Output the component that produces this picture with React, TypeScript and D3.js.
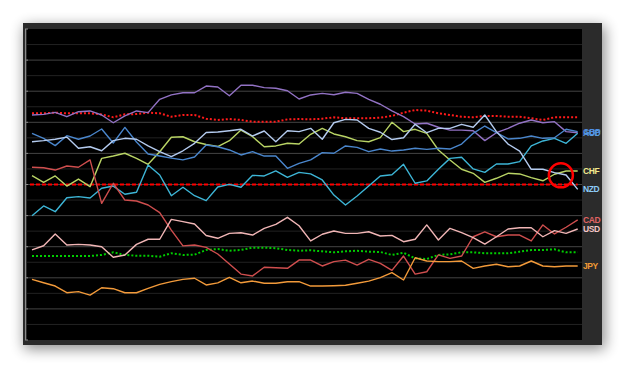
import React from 'react';
import * as d3 from 'd3';

const periods = d3.range(48);

const EUR = [4.47,4.51,4.64,4.36,4.68,4.73,4.47,3.97,4.41,4.73,4.62,5.48,5.76,5.90,5.90,6.33,6.27,5.71,6.38,6.38,6.23,6.19,6.03,5.50,5.76,5.86,5.77,5.93,5.86,5.48,5.16,4.73,4.36,3.89,3.94,3.68,3.50,3.50,3.46,2.82,3.33,3.61,3.94,4.15,3.97,4.04,3.40,3.33];
const GBP = [3.29,2.97,2.50,3.14,2.91,3.12,3.57,2.67,3.67,2.73,1.96,1.83,1.70,1.58,1.77,2.54,2.43,2.22,1.90,2.11,1.83,1.83,1.04,1.36,1.58,2.05,2.01,2.48,2.39,2.11,2.28,2.15,2.22,2.33,2.26,2.33,2.28,2.60,3.29,3.76,3.33,2.93,2.97,3.12,2.97,3.01,3.55,3.40];
const NZD = [2.75,2.82,2.91,3.05,2.33,2.43,2.17,2.82,2.97,2.91,2.48,2.11,1.79,2.17,2.65,3.34,3.38,3.46,3.55,3.12,3.44,2.75,3.46,3.40,3.61,2.91,3.97,4.19,4.15,3.61,3.36,2.89,3.01,3.87,3.33,3.61,3.61,3.87,3.68,4.47,3.40,2.60,2.15,0.98,0.98,0.76,0.61,-0.31];
const AUD = [-2.01,-1.38,-1.75,-0.85,-0.78,-0.87,-0.24,-0.10,-0.63,-0.50,1.25,0.61,-0.72,-0.18,-0.72,-1.04,-0.16,0.01,-0.18,0.59,0.55,0.87,0.46,0.78,0.68,0.29,-0.68,-1.32,-0.74,-0.10,0.55,0.63,1.30,0.08,0.23,0.98,1.68,1.75,1.00,0.78,1.32,1.32,1.47,2.48,2.80,2.97,2.65,3.29];
const CHF = [0.57,0.14,0.55,-0.10,0.35,-0.14,1.68,1.83,2.01,1.68,1.30,2.11,3.04,3.07,2.75,2.57,2.44,2.82,3.50,3.07,2.43,2.48,2.65,2.60,3.23,3.61,3.25,3.07,2.82,2.75,3.01,4.00,3.40,3.55,3.29,2.22,1.58,0.98,0.72,0.14,0.40,0.72,0.68,0.44,0.24,0.66,0.87,0.87];
const CAD = [1.11,1.08,0.93,1.19,1.11,1.58,-1.21,0.08,-1.00,-1.06,-1.32,-1.81,-2.93,-3.95,-3.89,-4.04,-4.47,-5.11,-5.76,-5.88,-5.32,-5.35,-5.39,-4.86,-4.86,-5.24,-4.96,-4.86,-5.18,-4.81,-5.07,-5.52,-4.60,-5.76,-5.61,-4.53,-4.75,-4.60,-3.36,-3.04,-3.36,-3.25,-3.25,-3.63,-2.60,-3.18,-2.75,-2.28];
const USD = [-4.21,-3.94,-3.18,-3.89,-3.85,-3.89,-4.00,-4.68,-4.53,-3.85,-3.52,-3.52,-2.24,-2.39,-2.54,-3.28,-3.46,-3.14,-3.10,-3.25,-2.82,-2.56,-2.11,-2.65,-3.63,-3.20,-2.99,-3.14,-3.14,-3.04,-3.31,-3.27,-3.68,-3.52,-2.60,-3.57,-2.82,-3.10,-3.42,-3.83,-3.36,-2.86,-2.78,-2.78,-3.36,-2.97,-3.14,-2.86];
const JPY = [-6.10,-6.32,-6.53,-6.96,-6.89,-7.11,-6.64,-6.70,-6.96,-6.96,-6.68,-6.42,-6.25,-6.10,-6.03,-6.46,-6.33,-5.97,-6.32,-6.21,-6.35,-6.35,-6.25,-6.25,-6.53,-6.53,-6.51,-6.48,-6.35,-6.21,-5.99,-5.67,-6.14,-4.71,-4.92,-4.96,-4.96,-4.92,-5.39,-5.24,-5.13,-5.29,-5.24,-4.92,-5.24,-5.29,-5.24,-5.24];
const upperBand = [4.58,4.58,4.62,4.58,4.58,4.58,4.51,4.32,4.51,4.53,4.62,4.58,4.36,4.47,4.47,4.23,4.15,4.21,4.15,4.04,4.04,4.04,4.19,4.21,4.19,4.23,4.32,4.26,4.26,4.26,4.30,4.41,4.62,4.79,4.75,4.58,4.47,4.36,4.32,4.41,4.41,4.36,4.36,4.26,4.15,4.32,4.32,4.32];
const lowerBand = [-4.60,-4.60,-4.60,-4.60,-4.60,-4.60,-4.53,-4.36,-4.53,-4.58,-4.58,-4.64,-4.42,-4.53,-4.51,-4.21,-4.15,-4.26,-4.21,-4.06,-4.06,-4.10,-4.21,-4.26,-4.23,-4.30,-4.36,-4.30,-4.26,-4.32,-4.34,-4.53,-4.39,-4.75,-4.79,-4.53,-4.49,-4.36,-4.36,-4.42,-4.42,-4.42,-4.32,-4.21,-4.21,-4.17,-4.36,-4.36];
const zeroLevel = 0;
const yDomain = [-10, 10];
const gridValues = d3.range(-9, 10);
const highlight = { index: 45.55, value: 0.59 };

const currencies = [
  { name: 'EUR', values: EUR, color: '#9272c4', label: false, labelColor: '' },
  { name: 'CHF', values: CHF, color: '#b9d465', label: true, labelColor: '#f3ea8e' },
  { name: 'AUD', values: AUD, color: '#3db5d6', label: true, labelColor: '#5a9fe0' },
  { name: 'GBP', values: GBP, color: '#4a86cc', label: true, labelColor: '#4f8fe2' },
  { name: 'NZD', values: NZD, color: '#b4cbef', label: true, labelColor: '#8ccaf7' },
  { name: 'CAD', values: CAD, color: '#cf4e4e', label: true, labelColor: '#e06464' },
  { name: 'USD', values: USD, color: '#f1b6b6', label: true, labelColor: '#f4c6c6' },
  { name: 'JPY', values: JPY, color: '#f29a3a', label: true, labelColor: '#f09a34' },
];

export default function App() {
  const W = 625, H = 369;
  const x = d3.scaleLinear().domain([0, 47]).range([32, 577.7]);
  const y = d3.scaleLinear().domain(yDomain).range([340, 29]);
  const line = d3.line<number>().x((_, i) => x(periods[i])).y(d => y(d));

  return (
    <svg width={W} height={H} style={{ position: 'absolute', left: 0, top: 0 }}>
      <defs>
        <filter id="shadow" x="-20%" y="-20%" width="140%" height="150%">
          <feGaussianBlur stdDeviation="7" />
        </filter>
      </defs>
      <rect x={0} y={0} width={W} height={H} fill="#ffffff" />
      <rect x={24} y={26} width={581} height={323} fill="#000" opacity={0.45} filter="url(#shadow)" />
      <rect x={23} y={23} width={579} height={322} fill="#2b2b2b" />
      <rect x={27} y={29} width={555} height={311} fill="#000" />
      {gridValues.map(v => (
        <line key={v} x1={27} x2={582} y1={y(v)} y2={y(v)}
          stroke={v % 2 === 0 ? '#444' : '#222'} strokeWidth={1} />
      ))}
      <line x1={25.5} x2={25.5} y1={y(10)} y2={y(-10)} stroke="#8a8a8a" strokeWidth={1} />
      {d3.range(-10, 11, 2).map(v => (
        <line key={'t' + v} x1={25} x2={28} y1={y(v)} y2={y(v)} stroke="#8a8a8a" strokeWidth={1} />
      ))}
      <path d={line(upperBand) || ''} fill="none" stroke="#ff1a1a" strokeWidth={2} strokeDasharray="2,2" />
      <path d={line(lowerBand) || ''} fill="none" stroke="#00cc00" strokeWidth={2} strokeDasharray="2,2" />
      <line x1={x(0) - 2} x2={x(47)} y1={y(zeroLevel)} y2={y(zeroLevel)} stroke="#ff0000" strokeWidth={2} strokeDasharray="4,2" />
      {currencies.map(c => (
        <path key={c.name} d={line(c.values) || ''} fill="none" stroke={c.color} strokeWidth={1.4} strokeLinejoin="round" />
      ))}
      <circle cx={x(highlight.index)} cy={y(highlight.value)} r={12} fill="none" stroke="#ff0000" strokeWidth={2.5} />
      {currencies.filter(c => c.label).map(c => (
        <text key={'l' + c.name} x={583} y={y(c.values[c.values.length - 1]) + 3}
          fill={c.labelColor} fontSize={8.5} fontWeight="bold" fontFamily="Liberation Sans, Arial, sans-serif" letterSpacing={-0.4}>
          {c.name}
        </text>
      ))}
    </svg>
  );
}
